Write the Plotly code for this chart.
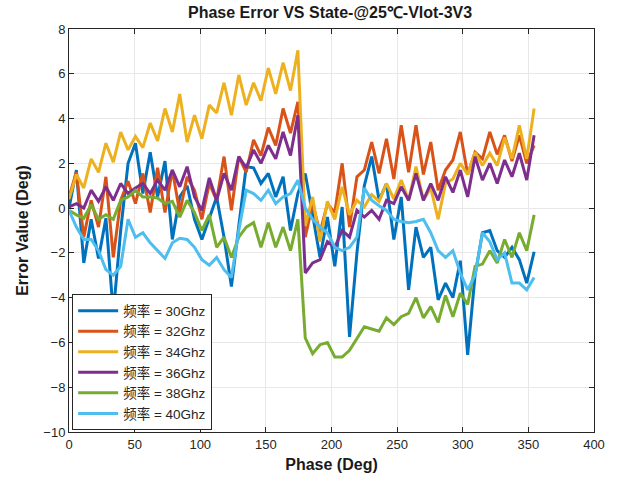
import plotly.graph_objects as go

phase = [0.0, 5.625, 11.25, 16.875, 22.5, 28.125, 33.75, 39.375, 45.0, 50.625,
         56.25, 61.875, 67.5, 73.125, 78.75, 84.375, 90.0, 95.625, 101.25, 106.875,
         112.5, 118.125, 123.75, 129.375, 135.0, 140.625, 146.25, 151.875, 157.5, 163.125,
         168.75, 174.375, 180.0, 185.625, 191.25, 196.875, 202.5, 208.125, 213.75, 219.375,
         225.0, 230.625, 236.25, 241.875, 247.5, 253.125, 258.75, 264.375, 270.0, 275.625,
         281.25, 286.875, 292.5, 298.125, 303.75, 309.375, 315.0, 320.625, 326.25, 331.875,
         337.5, 343.125, 348.75, 354.375]

err_30 = [0.0, 1.7, -2.45, -0.5, -2.25, -0.45, -4.7, -1.0, 2.0, 2.9,
          0.65, 2.5, 0.5, 2.1, -1.4, 0.5, 1.0, -0.5, -1.4, -0.4,
          0.5, -1.3, -3.5, -0.8, 1.85, 1.8, 1.1, 1.55, 0.5, 1.4,
          -1.0, 0.65, 1.55, -0.3, -2.2, -0.4, -2.6, 0.05, -5.75, -2.0,
          1.0, 2.3, 0.35, 1.1, -1.4, 0.5, -3.65, -0.85, -2.2, -1.75,
          -4.1, -3.35, -4.0, -2.35, -6.55, -3.0, -1.1, -1.0, -1.9, -2.2,
          -1.75, -2.3, -3.35, -1.95]

err_32 = [0.5, 1.6, -1.3, 0.35, -0.85, 1.4, -2.2, 0.35, 1.2, 0.2,
          1.55, -0.2, 1.8, -0.2, 1.7, -0.2, 1.4, 0.8, -0.5, 1.1,
          0.35, 2.3, -0.1, 2.3, 1.6, 3.05, 2.35, 3.6, 2.8, 4.45,
          3.35, 4.75, -1.3, 0.2, -1.1, 0.2, -0.2, 2.0, -0.85, 1.4,
          1.7, 2.95, 1.55, 3.1, 1.3, 3.7, 1.6, 3.7, 1.5, 2.95,
          0.8, 1.7, 2.15, 3.4, 1.5, 2.5, 2.2, 3.4, 2.4, 3.25,
          2.1, 3.25, 2.0, 2.8]

err_34 = [0.4, 1.5, 0.9, 2.2, 1.6, 2.9, 2.05, 3.4, 2.6, 3.2,
          2.7, 3.8, 3.0, 4.45, 3.4, 5.1, 2.95, 4.15, 3.1, 4.6,
          4.25, 5.6, 4.15, 5.95, 4.6, 5.6, 4.8, 6.25, 5.1, 6.5,
          5.25, 7.05, -0.8, 0.5, -1.5, 0.3, -0.5, 0.95, -0.3, 0.35,
          0.05, 0.6, 0.3, 1.1, 0.4, 1.25, 0.35, 1.85, 0.35, 0.9,
          -0.5, 1.1, 1.3, 2.0, 1.5, 2.5, 1.9, 2.45, 1.9, 3.15,
          2.2, 3.7, 2.2, 4.45]

err_36 = [0.05, 0.2, 0.0, 0.8, 0.3, 0.95, 0.35, 1.1, 0.65, 0.9,
          1.1, 0.65, 1.25, 0.8, 1.7, 0.95, 1.85, 0.5, -0.1, 1.35,
          0.35, 1.55, 0.8, 2.3, 1.8, 2.6, 2.0, 2.8, 2.2, 3.4,
          2.35, 4.15, -2.9, -2.45, -2.3, -1.5, -1.75, -1.0, -1.3, -0.1,
          -0.4, -0.1, -0.5, 0.35, 0.2, 0.95, 0.35, 1.55, 0.35, 1.1,
          0.35, 1.4, 0.7, 1.7, 0.5, 2.3, 1.25, 2.0, 1.1, 2.15,
          1.4, 2.45, 1.25, 3.25]

err_38 = [-0.1, -0.3, -0.45, 0.15, -0.5, -0.3, -0.5, 0.35, 0.5, 0.8,
          0.5, 0.5, 0.45, 0.2, 0.3, -0.4, 0.35, -0.2, -1.0, -0.3,
          -1.75, -1.3, -2.2, -1.3, -0.85, -0.65, -1.75, -0.65, -1.75, -0.85,
          -1.9, -0.5, -5.8, -6.5, -6.1, -6.0, -6.65, -6.65, -6.35, -5.8,
          -5.3, -5.4, -5.5, -4.9, -5.2, -4.85, -4.7, -4.0, -4.9, -4.4,
          -5.1, -3.9, -4.85, -3.8, -4.3, -2.6, -2.5, -1.9, -2.45, -1.4,
          -2.2, -1.1, -1.9, -0.3]

err_40 = [-0.1, -0.85, -1.4, -1.4, -1.9, -2.75, -3.0, -2.6, -0.5, -1.3,
          -1.1, -1.55, -1.9, -2.25, -1.55, -1.35, -1.4, -1.75, -2.3, -2.55,
          -2.2, -2.75, -3.1, -1.0, 0.8, 0.65, 0.35, 0.8, 0.2, 0.5,
          0.65, 1.25, 0.0, -0.5, -0.85, -1.1, -1.75, -1.9, -1.75, -1.3,
          0.9, 0.35, 0.1, -0.1, -0.5, -0.6, -0.65, -0.6, -0.5, -1.1,
          -1.9, -2.2, -1.9, -2.9, -3.65, -3.0, -1.1, -1.5, -2.3, -2.0,
          -3.35, -3.35, -3.65, -3.1]

series_names = ["频率 = 30Ghz", "频率 = 32Ghz", "频率 = 34Ghz",
                "频率 = 36Ghz", "频率 = 38Ghz", "频率 = 40Ghz"]
series_values = [err_30, err_32, err_34, err_36, err_38, err_40]
colors = ["#0072BD", "#D95319", "#EDB120", "#7E2F8E", "#77AC30", "#4DBEEE"]

fig = go.Figure()
for name, vals, col in zip(series_names, series_values, colors):
    fig.add_trace(go.Scatter(x=phase, y=vals, mode="lines", name=name,
                             line=dict(color=col, width=3)))

axis_common = dict(
    showline=True, linecolor="#262626", linewidth=1, mirror="allticks",
    ticks="inside", ticklen=5, tickcolor="#262626",
    showgrid=True, gridcolor="#e8e8e8", gridwidth=1, zeroline=False,
    tickfont=dict(family="Liberation Sans, Arial, sans-serif", size=13, color="#262626"),
)

fig.update_layout(
    width=617, height=491,
    margin=dict(l=69, r=20, t=29, b=59),
    paper_bgcolor="white", plot_bgcolor="white",
    font=dict(family="Liberation Sans, Arial, Noto Sans CJK SC, sans-serif", color="#262626"),
    title=dict(text="<b>Phase Error VS State-@25℃-Vlot-3V3</b>", x=0.535, xanchor="center",
               y=0.975, yanchor="middle",
               font=dict(family="Liberation Sans, Arial, sans-serif", size=16, color="#1a1a1a")),
    xaxis=dict(range=[0, 400], dtick=50, tick0=0,
               title=dict(text="<b>Phase (Deg)</b>", standoff=8,
                          font=dict(family="Liberation Sans, Arial, sans-serif", size=16, color="#1a1a1a")),
               **axis_common),
    yaxis=dict(range=[-10, 8], dtick=2, tick0=0,
               title=dict(text="<b>Error Value (Deg)</b>", standoff=10,
                          font=dict(family="Liberation Sans, Arial, sans-serif", size=16, color="#1a1a1a")),
               **axis_common),
    showlegend=True,
    legend=dict(x=0.006, y=0.004, xanchor="left", yanchor="bottom",
                bgcolor="white", bordercolor="#262626", borderwidth=1,
                font=dict(family="Liberation Sans, Noto Sans CJK SC, sans-serif", size=13.5, color="#262626"),
                itemwidth=40, tracegroupgap=0),
)

fig.write_html("out.html")
